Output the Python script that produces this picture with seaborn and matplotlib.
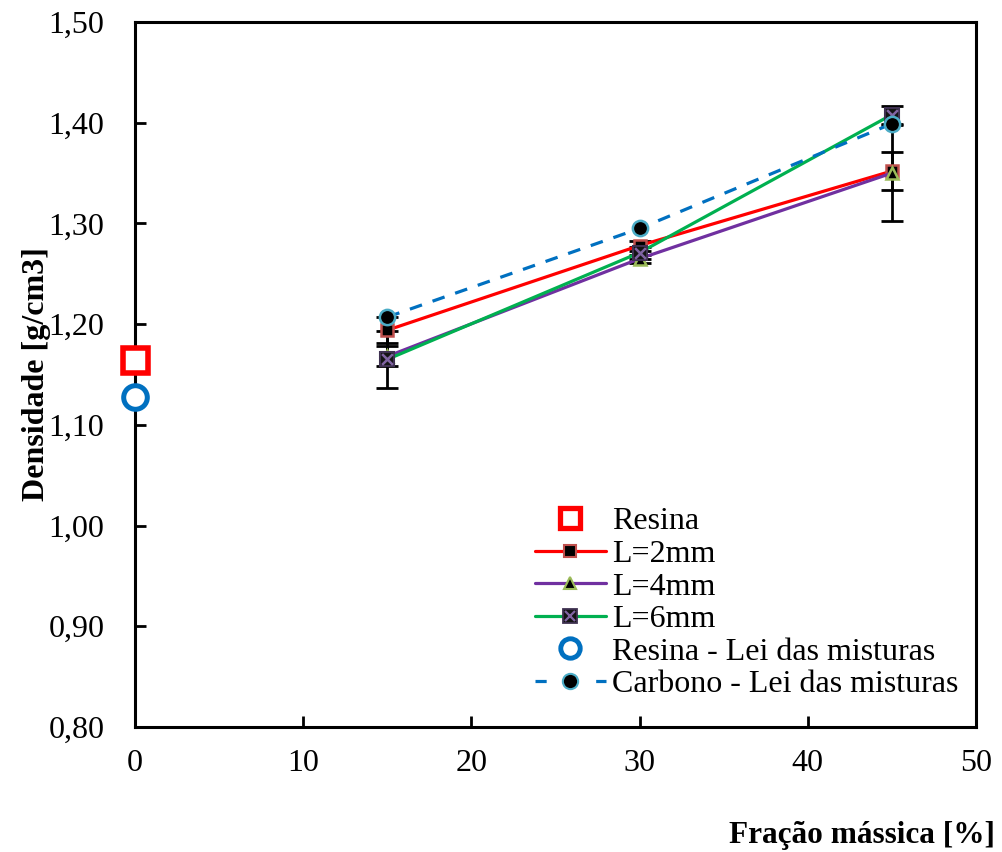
import numpy as np
import pandas as pd
import seaborn as sns
import matplotlib
matplotlib.use("Agg")
import matplotlib.pyplot as plt
from matplotlib.lines import Line2D
from matplotlib.legend_handler import HandlerTuple
from matplotlib.ticker import FuncFormatter

# ---- data ----
frac = [15, 30, 45]
resina_x = [0]
resina_y = [1.164]
resina_lei_x = [0]
resina_lei_y = [1.128]
l2_y = [1.194, 1.278, 1.352]
l2_err = [0.013, 0.005, 0.019]
l4_y = [1.168, 1.265, 1.350]
l4_err = [0.010, 0.004, 0.048]
l6_y = [1.165, 1.271, 1.408]
l6_err = [0.028, 0.006, 0.009]
carb_y = [1.207, 1.295, 1.399]

x_ticks = [0, 10, 20, 30, 40, 50]
y_ticks = [0.80, 0.90, 1.00, 1.10, 1.20, 1.30, 1.40, 1.50]

sns.set_style("ticks")
plt.rcParams['font.family'] = ['Liberation Serif', 'DejaVu Serif']
plt.rcParams['text.color'] = 'black'
plt.rcParams['axes.labelcolor'] = 'black'
plt.rcParams['xtick.color'] = 'black'
plt.rcParams['ytick.color'] = 'black'

fig = plt.figure(figsize=(10.03, 8.52), dpi=100)
ax = fig.add_axes([0.1346, 0.1467, 0.8385, 0.8275])

RED = '#FF0000'
PURPLE = '#7030A0'
GREEN = '#00B050'
BLUE = '#0070C0'

# error bars
for ys, es in [(l2_y, l2_err), (l4_y, l4_err), (l6_y, l6_err)]:
    ax.errorbar(frac, ys, yerr=es, fmt='none', ecolor='black', elinewidth=2,
                capsize=8, capthick=2, zorder=2)

lw = 2.3
sns.lineplot(x=frac, y=l2_y, ax=ax, color=RED, lw=lw, marker='s', markersize=9,
             markerfacecolor='black', markeredgecolor='#C0504D', markeredgewidth=1.8, zorder=4)
sns.lineplot(x=frac, y=l4_y, ax=ax, color=PURPLE, lw=lw, marker='^', markersize=9,
             markerfacecolor='black', markeredgecolor='#9BBB59', markeredgewidth=1.8, zorder=4)
sns.lineplot(x=frac, y=l6_y, ax=ax, color=GREEN, lw=lw, marker='s', markersize=10,
             markerfacecolor='#141414', markeredgecolor='#3F3151', markeredgewidth=1.5, zorder=4)
sns.scatterplot(x=frac, y=l6_y, ax=ax, marker='x', s=60, color='#8064A2', linewidth=1.8, zorder=5)
sns.lineplot(x=frac, y=carb_y, ax=ax, color=BLUE, lw=lw, linestyle=(0, (4, 3.5)), marker='o',
             markersize=11, markerfacecolor='black', markeredgecolor='#4BACC6',
             markeredgewidth=1.8, zorder=6)

ax.plot(resina_x, resina_y, linestyle='none', marker='s', markersize=18, markerfacecolor='white',
        markeredgecolor=RED, markeredgewidth=4, clip_on=False, zorder=7)
ax.plot(resina_lei_x, resina_lei_y, linestyle='none', marker='o', markersize=17, markerfacecolor='white',
        markeredgecolor=BLUE, markeredgewidth=3.6, clip_on=False, zorder=7)

ax.set_xlim(0, 50)
ax.set_ylim(0.80, 1.50)
ax.set_xticks(x_ticks)
ax.set_yticks(y_ticks)
ax.yaxis.set_major_formatter(FuncFormatter(lambda v, p: f"{v:.2f}".replace('.', ',')))
ax.tick_params(direction='in', length=8, width=2, labelsize=23, top=False, right=False,
               colors='black')
ax.tick_params(axis='y', pad=22)
ax.tick_params(axis='x', pad=16)
for s in ax.spines.values():
    s.set_linewidth(2.2)
    s.set_color('black')
    s.set_visible(True)

ax.set_ylabel('Densidade [g/cm3]', fontsize=23, fontweight='bold', labelpad=-2, color='black')
ax.set_xlabel('Fração mássica [%]', fontsize=22.5, fontweight='bold', ha='right', color='black')
ax.xaxis.set_label_coords(1.023, -0.133)

# legend
h_res = Line2D([], [], linestyle='none', marker='s', markersize=14, markerfacecolor='white',
               markeredgecolor=RED, markeredgewidth=3.8)
h_l2 = Line2D([], [], color=RED, lw=lw, marker='s', markersize=8.5, markerfacecolor='black',
              markeredgecolor='#C0504D', markeredgewidth=1.5)
h_l4 = Line2D([], [], color=PURPLE, lw=lw, marker='^', markersize=9, markerfacecolor='black',
              markeredgecolor='#9BBB59', markeredgewidth=1.5)
h_l6a = Line2D([], [], color=GREEN, lw=lw, marker='s', markersize=9.5, markerfacecolor='#141414',
               markeredgecolor='#3F3151', markeredgewidth=1.3)
h_l6b = Line2D([], [], linestyle='none', marker='x', markersize=7, color='#8064A2', markeredgewidth=1.6)
h_rl = Line2D([], [], linestyle='none', marker='o', markersize=14, markerfacecolor='white',
              markeredgecolor=BLUE, markeredgewidth=3.5)
h_cb = Line2D([], [], color=BLUE, lw=lw, linestyle=(0, (3.5, 6)), marker='o', markersize=11,
              markerfacecolor='black', markeredgecolor='#4BACC6', markeredgewidth=1.5)
leg = ax.legend([h_res, h_l2, h_l4, (h_l6a, h_l6b), h_rl, h_cb],
                ['Resina', 'L=2mm', 'L=4mm', 'L=6mm', 'Resina - Lei das misturas',
                 'Carbono - Lei das misturas'],
                handler_map={tuple: HandlerTuple(ndivide=1, pad=0)},
                loc='upper left', bbox_to_anchor=(0.476, 0.312), frameon=False,
                fontsize=23, handlelength=2.2, handletextpad=0.2, labelspacing=0.1,
                borderpad=0, borderaxespad=0, labelcolor='black')

fig.savefig('out.png', dpi=100)
